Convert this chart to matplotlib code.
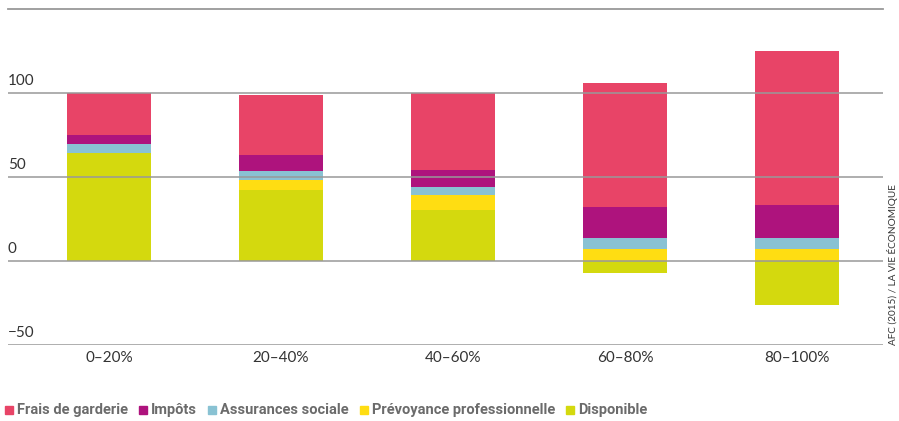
import matplotlib
matplotlib.use("Agg")
import matplotlib.pyplot as plt
import numpy as np
from matplotlib.patches import Rectangle
from matplotlib.lines import Line2D

# data
categories = ["0–20%", "20–40%", "40–60%", "60–80%", "80–100%"]
disponible = [64.0, 42.0, 30.5, -7.0, -26.0]
prevoyance = [0.0, 6.0, 8.5, 7.2, 7.2]
assurances = [5.5, 5.3, 5.3, 6.6, 6.6]
impots = [5.5, 9.7, 9.7, 18.5, 19.7]
frais = [25.0, 36.0, 46.0, 73.7, 91.5]

y_ticks = [100, 50, 0, -50]
y_labels = ["100", "50", "0", "−50"]

series_names = ["Frais de garderie", "Impôts", "Assurances sociale",
                "Prévoyance professionnelle", "Disponible"]
colors = {
    "Frais de garderie": "#E84467",
    "Impôts": "#AE137D",
    "Assurances sociale": "#89C2D3",
    "Prévoyance professionnelle": "#FFDD12",
    "Disponible": "#D4D90E",
}

FONT = ["Lato", "DejaVu Sans"]
LEGEND_FONT = ["Roboto", "DejaVu Sans"]

fig = plt.figure(figsize=(8.99, 4.21), dpi=100)
ax = fig.add_axes([8 / 899, 76 / 421, 875 / 899, 315 / 421])

x = np.arange(len(categories))
width = 0.49

# Disponible goes from zero (can be negative), others stack above max(disp, 0)
ax.bar(x, disponible, width, color=colors["Disponible"], zorder=1)
base = np.maximum(np.array(disponible), 0)
for name, vals in [("Prévoyance professionnelle", prevoyance),
                   ("Assurances sociale", assurances),
                   ("Impôts", impots),
                   ("Frais de garderie", frais)]:
    ax.bar(x, vals, width, bottom=base, color=colors[name], zorder=1)
    base = base + np.array(vals)

# gridlines drawn over the bars
for t, lab in zip(y_ticks, y_labels):
    ax.axhline(t, color="#999999", lw=1.3, alpha=0.85, zorder=3)
    ax.text(0.0, t + 3.2, lab, transform=ax.get_yaxis_transform(),
            ha="left", va="bottom", fontsize=11, color="#333333",
            family=FONT)

ax.set_xlim(-0.587, 4.5)
ax.set_ylim(-50, 137.5)
ax.set_xticks(x)
ax.set_xticklabels(categories, fontsize=11, color="#333333", family=FONT)
ax.tick_params(axis="x", length=0, pad=4)
ax.set_yticks([])
for s in ax.spines.values():
    s.set_visible(False)

# top rule under the (cropped) title
fig.add_artist(Line2D([8 / 899, 883 / 899], [1 - 9 / 421, 1 - 9 / 421],
                      color="#999999", lw=1.3, transform=fig.transFigure))

# source note on the right
fig.text(893 / 899, 1 - 345 / 421, "AFC (2015) / LA VIE ÉCONOMIQUE",
         rotation=90, ha="center", va="bottom", fontsize=7.2, color="#333333",
         family=FONT)

# legend, laid out left to right along the bottom
renderer = fig.canvas.get_renderer()
ly = 1 - 410 / 421
sq = 8
cur = 5
for name in series_names:
    fig.add_artist(Rectangle((cur / 899, ly - sq / 2 / 421), sq / 899, sq / 421,
                             color=colors[name], transform=fig.transFigure))
    t = fig.text((cur + 12) / 899, ly, name, ha="left", va="center",
                 fontsize=10.5, fontweight="bold", color="#6b6b6b",
                 family=LEGEND_FONT)
    bb = t.get_window_extent(renderer=renderer)
    cur = bb.x1 + 11

fig.savefig("out.png", dpi=100)
